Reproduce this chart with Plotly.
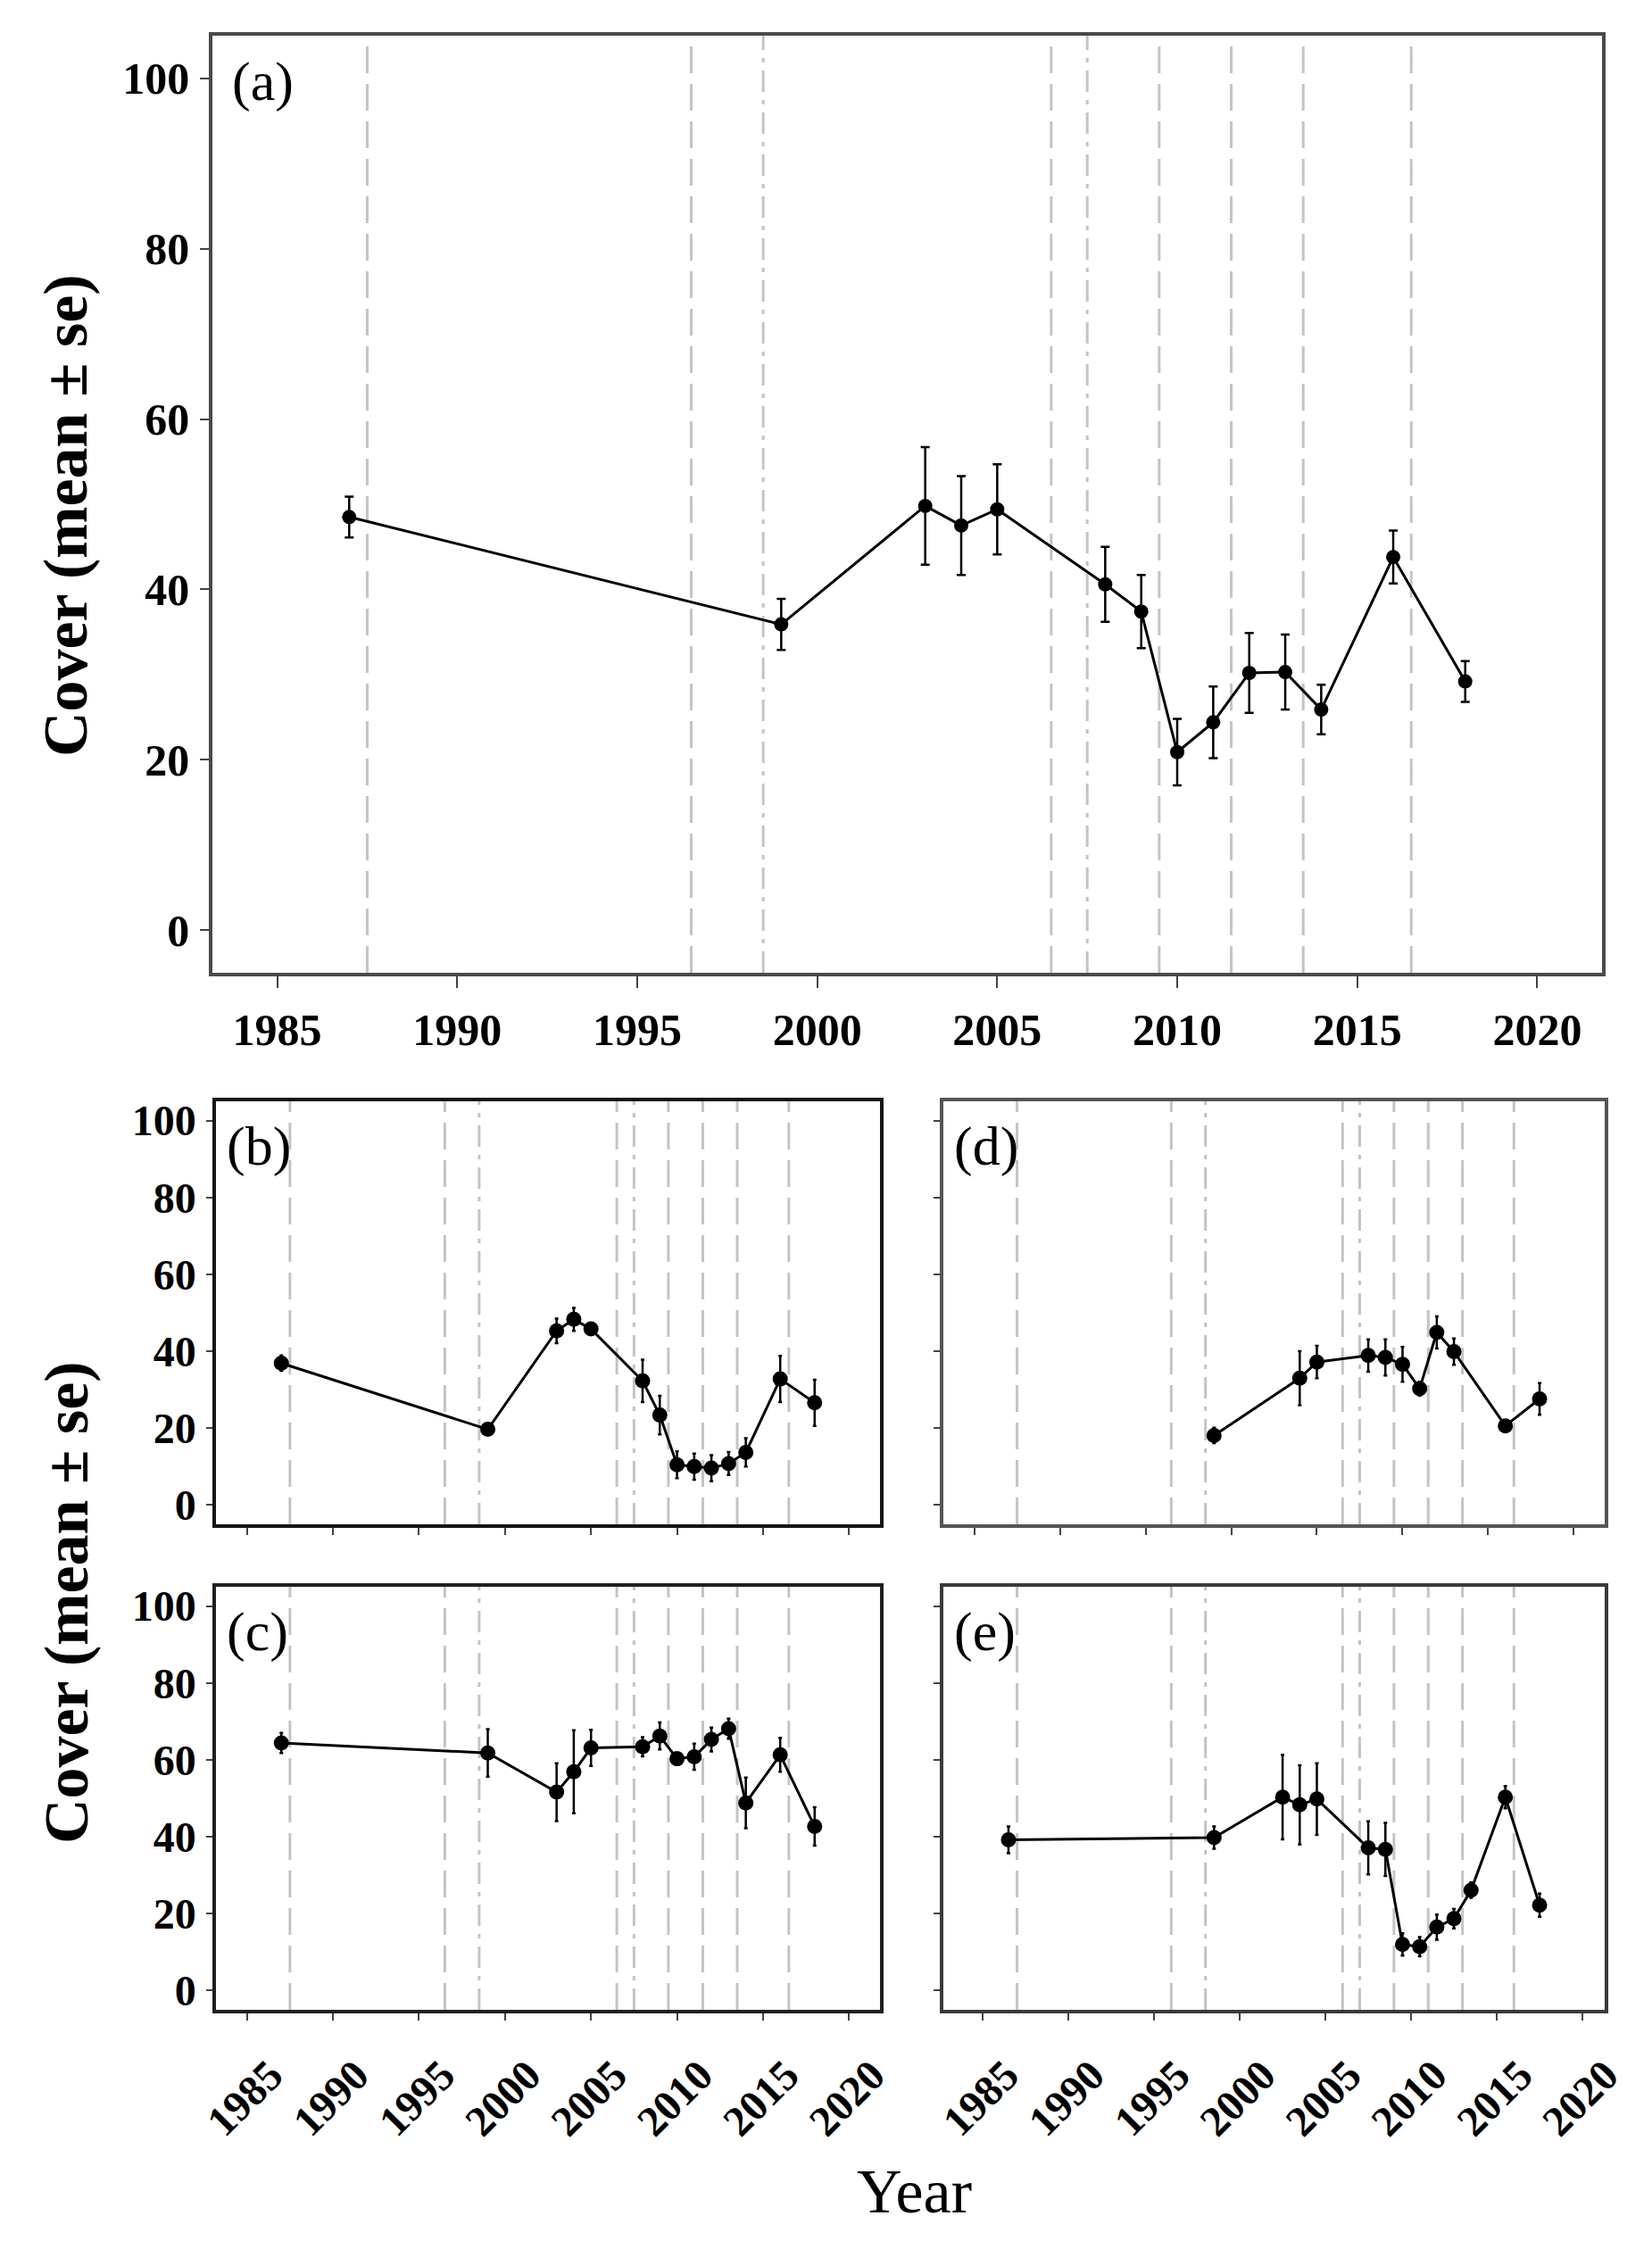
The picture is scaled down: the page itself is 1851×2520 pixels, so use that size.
import plotly.graph_objects as go

W, H = 1851, 2520

# ---- data ----
years_all = [1987, 1999, 2003, 2004, 2005, 2008, 2009, 2010, 2011, 2012, 2013, 2014, 2016, 2018]

a_mean = [48.5, 35.9, 49.8, 47.5, 49.4, 40.6, 37.4, 20.9, 24.4, 30.2, 30.3, 25.9, 43.8, 29.2]
a_se = [2.4, 3.0, 6.9, 5.8, 5.3, 4.4, 4.3, 3.9, 4.2, 4.7, 4.4, 2.9, 3.1, 2.4]

b_mean = [36.9, 19.7, 45.3, 48.3, 45.8, 32.3, 23.4, 10.5, 10.0, 9.6, 10.8, 13.7, 32.8, 26.6]
b_se = [2.0, 1.2, 3.2, 3.0, 1.0, 5.5, 5.0, 3.5, 3.4, 3.4, 3.0, 3.7, 6.0, 6.0]

c_mean = [64.4, 61.8, 51.6, 56.9, 63.1, 63.4, 66.2, 60.3, 60.8, 65.3, 68.1, 48.8, 61.3, 42.7]
c_se = [2.6, 6.2, 7.5, 10.8, 4.7, 2.5, 3.5, 1.5, 3.4, 3.1, 2.6, 6.6, 4.4, 5.0]

d_years = [1999, 2004, 2005, 2008, 2009, 2010, 2011, 2012, 2013, 2016, 2018]
d_mean = [18.1, 33.0, 37.2, 38.9, 38.4, 36.6, 30.3, 44.9, 39.9, 20.6, 27.6]
d_se = [2.0, 7.0, 4.2, 4.2, 4.7, 4.5, 1.8, 4.2, 3.4, 1.0, 4.1]

e_mean = [39.2, 39.8, 50.3, 48.3, 49.8, 37.1, 36.7, 12.0, 11.4, 16.5, 18.7, 26.1, 50.3, 22.2]
e_se = [3.5, 2.9, 11.0, 10.3, 9.3, 6.9, 6.9, 2.9, 2.5, 3.3, 2.5, 2.0, 2.9, 3.0]

dashed_years = [1987.5, 1996.5, 2006.5, 2009.5, 2011.5, 2013.5, 2016.5]
dashdot_years = [1998.5, 2007.5]

x_ticks = [1985, 1990, 1995, 2000, 2005, 2010, 2015, 2020]
y_ticks = [0, 20, 40, 60, 80, 100]
E_TICK_SHIFT = 0.5   # panel (e) tick marks sit half a year to the right

SERIF = "Liberation Serif"
VLINE = "#c4c4c4"


def px_x(a, b):
    return [a / W, b / W]


def px_y(top, bottom):
    return [1 - bottom / H, 1 - top / H]


panels = {
    # name: (axis suffix, x domain, y domain, label, frame colour)
    "a": ("", px_x(230, 1787), px_y(32, 1082), "(a)", "#4a4a4a"),
    "b": ("2", px_x(234, 978), px_y(1226, 1700), "(b)", "#151515"),
    "c": ("3", px_x(234, 978), px_y(1770, 2244), "(c)", "#202020"),
    "d": ("4", px_x(1049, 1790), px_y(1226, 1700), "(d)", "#555555"),
    "e": ("5", px_x(1049, 1790), px_y(1770, 2244), "(e)", "#3a3a3a"),
}

series = {
    "a": (years_all, a_mean, a_se),
    "b": (years_all, b_mean, b_se),
    "c": (years_all, c_mean, c_se),
    "d": (d_years, d_mean, d_se),
    "e": (years_all, e_mean, e_se),
}

fig = go.Figure()

for name, (sfx, xd, yd, label, frame) in panels.items():
    xs, ms, ses = series[name]
    big = name == "a"
    fig.add_trace(go.Scatter(
        x=xs, y=ms, mode="lines+markers",
        xaxis="x" + sfx, yaxis="y" + sfx,
        line=dict(color="black", width=3),
        marker=dict(color="black", size=16 if big else 17),
        error_y=dict(type="data", array=ses, visible=True, color="black",
                     thickness=2.5, width=5 if big else 2),
        showlegend=False,
    ))

    tick_font = dict(family=SERIF, size=50 if big else 48, color="black", weight="bold")
    xvals = x_ticks
    if name == "e":
        xvals = [t + E_TICK_SHIFT for t in x_ticks]
    xax = dict(
        domain=xd, range=[1983.2, 2021.8], anchor="y" + sfx,
        tickmode="array", tickvals=xvals, ticktext=[str(t) for t in x_ticks],
        showticklabels=name in ("a", "c", "e"), ticks="outside",
        ticklen=13 if big else 8, tickwidth=2, tickcolor="#444",
        tickfont=tick_font, tickangle=0 if big else -45,
        ticklabelstandoff=4 if big else 14,
        ticklabelshift=0 if big else 26,
        showline=True, mirror=True, linecolor=frame, linewidth=3.5,
        showgrid=False, zeroline=False, automargin=False,
    )
    yax = dict(
        domain=yd, range=[-5, 105], anchor="x" + sfx,
        tickmode="array", tickvals=y_ticks,
        showticklabels=name in ("a", "b", "c"), ticks="outside",
        ticklen=10 if big else 7, tickwidth=2, tickcolor="#444",
        tickfont=tick_font, ticklabelstandoff=2,
        showline=True, mirror=True, linecolor=frame, linewidth=3.5,
        showgrid=False, zeroline=False, automargin=False,
    )
    fig.update_layout({"xaxis" + sfx: xax, "yaxis" + sfx: yax})

    for yr in dashed_years + dashdot_years:
        fig.add_shape(
            type="line", xref="x" + sfx, yref="y" + sfx + " domain",
            x0=yr, x1=yr, y0=0, y1=1, layer="below",
            line=dict(color=VLINE, width=3,
                      dash="30px,12px" if yr in dashed_years else "24px,9px,5px,9px"),
        )

    fig.add_annotation(
        text=label, xref="x" + sfx + " domain", yref="y" + sfx + " domain",
        x=0.013 if big else 0.014, y=0.951 if big else 0.893,
        xanchor="left", yanchor="middle", showarrow=False,
        font=dict(family=SERIF, size=62, color="black"),
    )

ytitle = "Cover (mean ± se)"
for yc in (570, 1788):
    fig.add_annotation(
        text=ytitle, xref="paper", yref="paper", x=66 / W, y=1 - yc / H,
        xanchor="center", yanchor="middle", textangle=-90, showarrow=False,
        font=dict(family=SERIF, size=70, color="black", weight="bold"),
    )

fig.add_annotation(
    text="Year", xref="paper", yref="paper", x=1016 / W, y=1 - 2447 / H,
    xanchor="center", yanchor="middle", showarrow=False,
    font=dict(family=SERIF, size=70, color="black"),
)

fig.update_layout(
    width=W, height=H,
    margin=dict(l=0, r=0, t=0, b=0, autoexpand=False),
    paper_bgcolor="white", plot_bgcolor="white",
)

fig.write_html("out.html")
